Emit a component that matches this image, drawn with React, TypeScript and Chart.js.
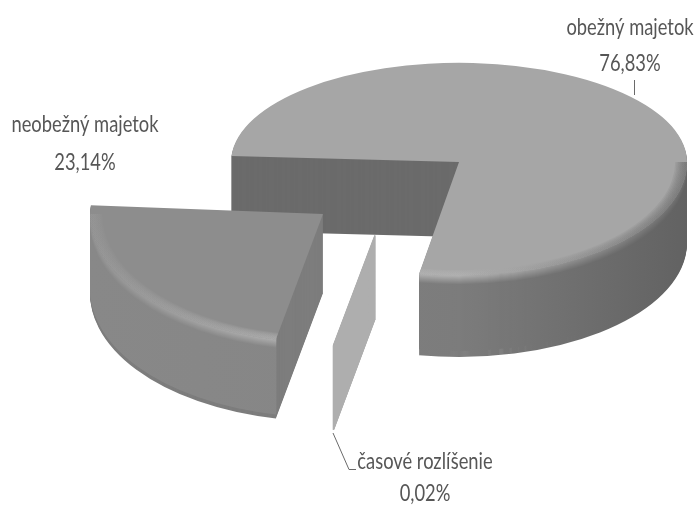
import React, { useEffect, useRef } from "react";
import { Chart, registerables } from "chart.js";

Chart.register(...registerables);

const categories = ["obežný majetok", "časové rozlíšenie", "neobežný majetok"];
const shares = [76.83, 0.02, 23.14];
const shareLabels = ["76,83%", "0,02%", "23,14%"];
const topColors = ["#a6a6a6", "#aeaeae", "#8d8d8d"];

const FONT = '23.5px Lato, "Noto Sans", sans-serif';
const TEXT = "#565656";
const SQUEEZE = 0.78;

const looks = [
  { vx: 459, vy: 162, rx: 228, kBack: 0.435, kFront: 0.5, faceDepth: 75, rimDepth: 81, tilt: 0, face: "#6b6b6b",
    side: [128, 124, 98], glow: [178, 178, 112], bevel: true, thin: 0 },
  { vx: 375, vy: 235, rx: 236, kBack: 0.476, kFront: 0.476, faceDepth: 84, rimDepth: 84, tilt: 0, face: "#aeaeae",
    side: [174, 174, 174], glow: [174, 174, 174], bevel: false, thin: 1.3 },
  { vx: 323, vy: 214, rx: 233, kBack: 0.435, kFront: 0.55, faceDepth: 79, rimDepth: 75, tilt: 0.026, face: "#7d7d7d",
    side: [136, 134, 134], glow: [150, 182, 182], bevel: true, thin: 0 },
];

const labelRows = [
  { slice: 0, x: 630, y1: 35, y2: 71 },
  { slice: 1, x: 425, y1: 469, y2: 501 },
  { slice: 2, x: 85, y1: 132, y2: 170 },
];

function gradient(ctx: any, arc: any, greys: number[], alpha = 1) {
  const g = ctx.createLinearGradient(arc.x - arc.outerRadius, 0, arc.x + arc.outerRadius, 0);
  greys.forEach((v, i) => g.addColorStop(i / (greys.length - 1), `rgba(${v},${v},${v},${alpha})`));
  return g;
}

function paint(ctx: any, arc: any, s: any, d: number, fill: any, inner = 0, lowerOnly = false) {
  const saved = arc.options;
  const savedInner = arc.innerRadius;
  arc.options = { ...saved, backgroundColor: fill, borderColor: fill, borderWidth: s.thin };
  arc.innerRadius = inner;
  const halves = lowerOnly ? [true] : [false, true];
  for (const lower of halves) {
    const k = lower ? s.kFront : s.kBack;
    const scale = s.rx / arc.outerRadius;
    ctx.save();
    ctx.beginPath();
    if (lower) ctx.rect(0, s.vy + d, 697, 506);
    else ctx.rect(0, 0, 697, s.vy + d);
    ctx.clip();
    ctx.translate(s.vx, s.vy + d);
    ctx.scale(scale, k * scale);
    ctx.rotate(s.tilt);
    ctx.translate(-arc.x, -arc.y);
    arc.draw(ctx);
    ctx.restore();
  }
  arc.options = saved;
  arc.innerRadius = savedInner;
}

const extrude = {
  id: "extrude",
  beforeDatasetsDraw(chart: any) {
    const ctx = chart.ctx;
    const arcs = chart.getDatasetMeta(0).data;
    arcs.forEach((arc: any, i: number) => {
      const s = looks[i];
      const R = arc.outerRadius;
      for (let d = s.faceDepth; d > 0; d--) paint(ctx, arc, s, d, s.face);
      for (let d = s.rimDepth; d > 0; d--) {
        const t = Math.min(1, d / 9);
        const mix = s.side.map((v: number, n: number) => Math.round(s.glow[n] + (v - s.glow[n]) * t));
        paint(ctx, arc, s, d, gradient(ctx, arc, mix), s.thin ? 0 : R * 0.985, true);
      }
      paint(ctx, arc, s, 0, topColors[i]);
      if (s.bevel) {
        const g = gradient(ctx, arc, s.glow, 0.17);
        for (let r = 1; r <= 8; r++) paint(ctx, arc, s, 0, g, R * (1 - r * 0.0065), true);
      }
    });
    return false;
  },
  afterDraw(chart: any) {
    const ctx = chart.ctx;
    ctx.save();
    ctx.strokeStyle = "#6a6a6a";
    ctx.lineWidth = 1;
    ctx.beginPath();
    ctx.moveTo(634.5, 80);
    ctx.lineTo(634.5, 95);
    ctx.moveTo(333, 433);
    ctx.lineTo(349, 469.5);
    ctx.lineTo(356, 469.5);
    ctx.stroke();
    ctx.fillStyle = TEXT;
    ctx.font = FONT;
    ctx.textAlign = "center";
    ctx.textBaseline = "alphabetic";
    const write = (text: string, x: number, y: number) => {
      ctx.save();
      ctx.translate(x, y);
      ctx.scale(SQUEEZE, 1);
      ctx.fillText(text, 0, 0);
      ctx.restore();
    };
    labelRows.forEach((row) => {
      write(categories[row.slice], row.x, row.y1);
      write(shareLabels[row.slice], row.x, row.y2);
    });
    ctx.restore();
  },
};

export default function App() {
  const ref = useRef<HTMLCanvasElement>(null);
  useEffect(() => {
    const chart = new Chart(ref.current as HTMLCanvasElement, {
      type: "pie",
      data: {
        labels: categories,
        datasets: [{ data: shares, backgroundColor: topColors, borderWidth: 0 }],
      },
      options: {
        animation: false,
        responsive: false,
        rotation: 273.5,
        layout: { padding: 0 },
        plugins: { legend: { display: false }, tooltip: { enabled: false } },
      },
      plugins: [extrude],
    } as any);
    return () => chart.destroy();
  }, []);
  return (
    <canvas
      ref={ref}
      width={697}
      height={506}
      style={{ position: "absolute", left: 0, top: 0, display: "block", background: "#fff" }}
    />
  );
}
